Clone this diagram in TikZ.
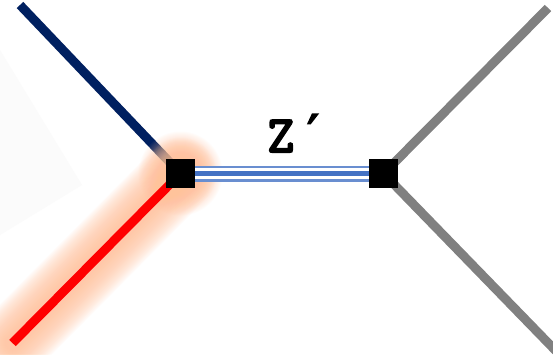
\documentclass[tikz,border=0pt]{standalone}
\usepackage{fontspec}
\newfontfamily\zfont{Latin Modern Mono}[FakeBold=4]
\newfontfamily\primefont{DejaVu Sans Mono}[FakeBold=3]
\definecolor{navy}{RGB}{0,32,96}
\definecolor{zblue}{RGB}{68,114,196}
\definecolor{glow}{RGB}{255,195,155}
\definecolor{lgray}{RGB}{128,128,128}
\tikzset{
  leg/.style={line width=9pt},
  vbox/.style={fill=black, minimum size=29pt, inner sep=0pt, draw=none},
  lbl/.style={font=\zfont\fontsize{52}{52}\selectfont, inner sep=0pt}
}
\begin{document}
\begin{tikzpicture}[x=1pt,y=-1pt]
\useasboundingbox (0,0) rectangle (553,354);
\fill[white] (0,0) rectangle (553,354);
% faint shadow
\fill[black!1.5] (0,50) -- (82,185) -- (0,235) -- cycle;
\coordinate (c1) at (180.5,173.5);
\coordinate (c2) at (383.5,173.5);
\coordinate (eb) at (20,5);
\coordinate (er) at (12.5,343);
\coordinate (eg1) at (548,8);
\coordinate (eg2) at (556,351);
% legs
\draw[leg, navy] (eb) -- (c1);
% glow
\foreach \w in {72,70,...,14}{
  \draw[glow, opacity=0.05, line width=\w pt, line cap=round] (er) -- (c1);
}
\foreach \r in {42,41,...,22}{
  \fill[glow, opacity=0.045] (c1) circle (\r pt);
}
\draw[leg, red] (er) -- (c1);
\draw[leg, lgray] (eg1) -- (c2);
\draw[leg, lgray] (eg2) -- (c2);
% propagator
\draw[zblue!80, line width=16pt] (c1) -- (c2);
\draw[white, line width=11.5pt] (c1) -- (c2);
\draw[zblue, line width=5pt] (c1) -- (c2);
% vertices
\node[vbox] (v1) at (c1) {};
\node[vbox] (v2) at (c2) {};
\node[lbl] (z) at (298,133) {Z\kern3pt{\primefont ′}};
\end{tikzpicture}
\end{document}
